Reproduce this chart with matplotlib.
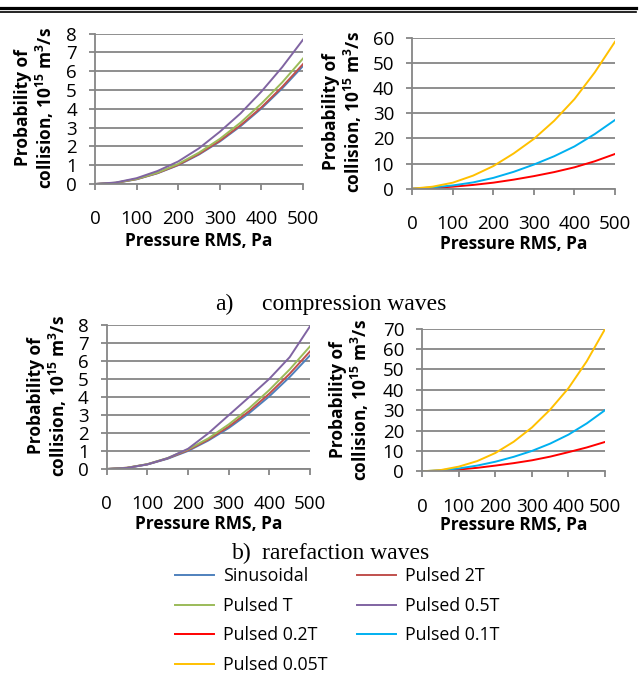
import matplotlib
matplotlib.use("Agg")
import matplotlib.pyplot as plt
from matplotlib.lines import Line2D

plt.rcParams["font.family"] = ["Open Sans", "DejaVu Sans"]
plt.rcParams["mathtext.fontset"] = "custom"
plt.rcParams["mathtext.rm"] = "Open Sans:bold"
plt.rcParams["mathtext.default"] = "rm"

pressure = [0, 50, 100, 150, 200, 250, 300, 350, 400, 450, 500]

# compression waves, 10^15 m^3/s
comp_sinusoidal = [0, 0.06, 0.25, 0.57, 1.00, 1.57, 2.26, 3.08, 4.02, 5.09, 6.28]
comp_pulsed_2t = [0, 0.06, 0.26, 0.58, 1.02, 1.60, 2.30, 3.13, 4.08, 5.17, 6.38]
comp_pulsed_t = [0, 0.07, 0.27, 0.60, 1.07, 1.67, 2.40, 3.27, 4.28, 5.41, 6.68]
comp_pulsed_05t = [0, 0.08, 0.31, 0.69, 1.20, 1.90, 2.78, 3.76, 4.92, 6.22, 7.68]
comp_pulsed_02t = [0, 0.3, 0.8, 1.5, 2.4, 3.6, 5.0, 6.6, 8.5, 10.9, 13.8]
comp_pulsed_01t = [0, 0.5, 1.3, 2.5, 4.3, 6.7, 9.6, 12.9, 16.8, 21.7, 27.3]
comp_pulsed_005t = [0, 0.8, 2.4, 5.2, 9.0, 14.0, 19.8, 27.0, 35.6, 46.2, 58.4]

# rarefaction waves, 10^15 m^3/s
rare_sinusoidal = [0, 0.06, 0.25, 0.57, 1.00, 1.58, 2.27, 3.09, 4.03, 5.10, 6.30]
rare_pulsed_2t = [0, 0.07, 0.26, 0.59, 1.04, 1.63, 2.35, 3.20, 4.18, 5.28, 6.52]
rare_pulsed_t = [0, 0.07, 0.27, 0.61, 1.09, 1.70, 2.47, 3.36, 4.38, 5.52, 6.80]
rare_pulsed_05t = [0, 0.06, 0.26, 0.60, 1.12, 1.98, 2.98, 3.98, 5.00, 6.20, 7.91]
rare_pulsed_02t = [0, 0.3, 0.9, 1.7, 2.8, 4.0, 5.4, 7.2, 9.4, 11.7, 14.4]
rare_pulsed_01t = [0, 0.5, 1.4, 2.8, 4.7, 7.1, 10.0, 13.6, 18.0, 23.5, 30.0]
rare_pulsed_005t = [0, 0.6, 2.3, 5.0, 9.0, 14.5, 21.5, 30.3, 40.8, 54.0, 69.8]

series_names = ["Sinusoidal", "Pulsed 2T", "Pulsed T", "Pulsed 0.5T",
                "Pulsed 0.2T", "Pulsed 0.1T", "Pulsed 0.05T"]
series_colors = ["#4F81BD", "#C0504D", "#9BBB59", "#8064A2",
                 "#FF0000", "#00B0F0", "#FFC000"]

W, H = 641, 675
fig = plt.figure(figsize=(W / 100, H / 100), dpi=100)

GRID = "#868686"
TICK_FS = 13.5
LABEL_FS = 12.5


def px_rect(left, top, right, bottom):
    return [left / W, 1 - bottom / H, (right - left) / W, (bottom - top) / H]


def style_axes(ax, ymax, ystep):
    ax.set_xlim(0, 500)
    ax.set_ylim(0, ymax)
    ax.set_xticks(range(0, 501, 100))
    ax.set_yticks(range(0, ymax + 1, ystep))
    ax.grid(axis="y", color=GRID, linewidth=1.3)
    ax.set_axisbelow(True)
    for side in ("top", "right"):
        ax.spines[side].set_visible(False)
    for side in ("left", "bottom"):
        ax.spines[side].set_color(GRID)
        ax.spines[side].set_linewidth(1.3)
    ax.tick_params(axis="both", direction="out", length=4, width=1.3,
                   color=GRID, labelsize=TICK_FS)
    ax.xaxis.set_tick_params(pad=15)
    ax.yaxis.set_tick_params(pad=9)


def add_labels(ax, yl_x, yl_y, xl_y):
    fig.text((ax.get_position().x0 + ax.get_position().x1) / 2, 1 - xl_y / H,
             "Pressure RMS, Pa", ha="center", va="center",
             fontsize=LABEL_FS, fontweight="bold")
    fig.text(yl_x / W, 1 - yl_y / H,
             "Probability of\ncollision, 10$^{15}$ m$^{3}$/s",
             rotation=90, ha="center", va="center", multialignment="center",
             fontsize=LABEL_FS, fontweight="bold", linespacing=1.05)


def plot_group(ax, data, idx):
    for y, i in zip(data, idx):
        ax.plot(pressure, y, color=series_colors[i], linewidth=1.4,
                label=series_names[i])


# a) compression waves
ax1 = fig.add_axes(px_rect(95, 33.7, 303, 184))
plot_group(ax1, [comp_sinusoidal, comp_pulsed_2t, comp_pulsed_t, comp_pulsed_05t],
           [0, 1, 2, 3])
style_axes(ax1, 8, 1)
add_labels(ax1, 35, 108, 241)

ax2 = fig.add_axes(px_rect(412.3, 37.7, 615, 188.7))
plot_group(ax2, [comp_pulsed_02t, comp_pulsed_01t, comp_pulsed_005t], [4, 5, 6])
style_axes(ax2, 60, 10)
add_labels(ax2, 343, 112, 244)

# b) rarefaction waves
ax3 = fig.add_axes(px_rect(106.7, 324.7, 310, 469))
plot_group(ax3, [rare_sinusoidal, rare_pulsed_2t, rare_pulsed_t, rare_pulsed_05t],
           [0, 1, 2, 3])
style_axes(ax3, 8, 1)
add_labels(ax3, 48, 396, 524)

ax4 = fig.add_axes(px_rect(422.3, 328.7, 605, 471.3))
plot_group(ax4, [rare_pulsed_02t, rare_pulsed_01t, rare_pulsed_005t], [4, 5, 6])
style_axes(ax4, 70, 10)
add_labels(ax4, 350, 400, 525)

# captions
CAP = dict(family="Liberation Serif", fontsize=17, ha="left", va="baseline")
fig.text(215 / W, 1 - 310 / H, "a)", **CAP)
fig.text(262 / W, 1 - 310 / H, "compression waves", **CAP)
fig.text(232 / W, 1 - 559 / H, "b)", **CAP)
fig.text(262 / W, 1 - 559 / H, "rarefaction waves", **CAP)

# double rule at the top of the page
fig.add_artist(Line2D([0, 636 / W], [1 - 7.5 / H] * 2, color="black", linewidth=2.3))
fig.add_artist(Line2D([0, 636 / W], [1 - 12.2 / H] * 2, color="black", linewidth=1.2))

# shared legend, filled column by column
order = [0, 2, 4, 6, 1, 3, 5]
handles = [Line2D([], [], color=series_colors[i], linewidth=1.4) for i in order]
labels = [series_names[i] for i in order]
fig.legend(handles, labels, ncol=2, frameon=False, fontsize=12.8,
           loc="upper left", bbox_to_anchor=(175 / W, 1 - 567 / H),
           borderpad=0, borderaxespad=0, handlelength=2.2, handletextpad=0.5,
           labelspacing=0.66, columnspacing=1.65)

fig.savefig("out.png", dpi=100)
